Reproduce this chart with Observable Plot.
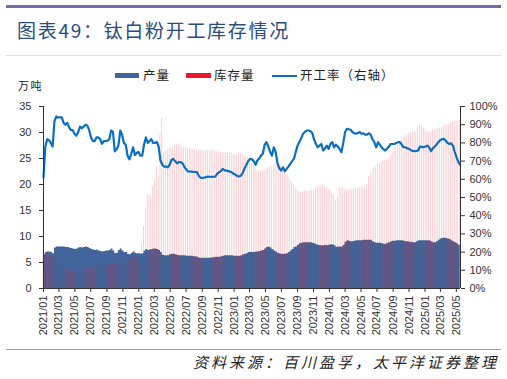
<!DOCTYPE html>
<html><head><meta charset="utf-8">
<script src="https://cdn.jsdelivr.net/npm/d3@7"></script>
<script src="https://cdn.jsdelivr.net/npm/@observablehq/plot@0.6"></script>
<style>
body{margin:0;background:#fff;}
#wrap{position:relative;width:507px;height:379px;overflow:hidden;font-family:"Noto Sans CJK SC","Noto Sans",sans-serif;color:#222;}
.abs{position:absolute;white-space:nowrap;line-height:1;}
#topbar{left:6px;top:5px;width:495px;height:3px;background:#6b6fa6;}
#title{left:17px;top:20px;font-size:19px;letter-spacing:1.7px;color:#2a4d80;}
#sep{left:6px;top:55px;width:495px;height:1px;background:#dcdcea;}
#botline{left:6px;top:349px;width:495px;height:1px;background:#9a9cc8;}
#source{right:8px;top:354px;font-size:15px;letter-spacing:3px;font-style:italic;color:#222;}
.sw{position:absolute;}
.lt{font-size:12.5px;letter-spacing:1px;color:#222;}
#unit{left:18px;top:80px;font-size:11px;letter-spacing:1.5px;}
#chart{position:absolute;left:0;top:0;}
</style></head>
<body><div id="wrap">
<div id="topbar" class="abs"></div>
<div id="title" class="abs">图表49：钛白粉开工库存情况</div>
<div id="sep" class="abs"></div>
<div id="chart"></div>
<div class="sw" style="left:115px;top:73px;width:24px;height:5px;background:#41659a"></div>
<div class="abs lt" style="left:143px;top:69px">产量</div>
<div class="sw" style="left:186px;top:73px;width:25px;height:5px;background:#e8192c"></div>
<div class="abs lt" style="left:214px;top:69px">库存量</div>
<div class="sw" style="left:272px;top:74.5px;width:25px;height:2px;background:#0a6fc4"></div>
<div class="abs lt" style="left:300px;top:69px">开工率（右轴）</div>
<div id="unit" class="abs">万吨</div>
<div id="botline" class="abs"></div>
<div id="source" class="abs">资料来源：百川盈孚，太平洋证券整理</div>
</div>
<script>
// weekly series starting 2021-01-01
const startDate = "2021-01-01";
const production = [
6.5,6.9,7.0,7.0,6.9,6.7,7.8,8.0,8.0,8.0,
8.0,8.0,7.9,7.9,7.8,7.7,7.6,7.5,7.6,7.8,
7.9,7.8,7.9,8.0,7.9,7.7,7.5,7.4,7.3,7.4,
7.2,7.1,7.0,7.1,7.2,7.2,7.3,7.6,7.2,6.7,
6.8,7.3,7.6,7.2,6.9,6.9,6.6,6.5,6.8,7.0,
6.8,6.7,6.7,6.6,6.7,7.2,7.5,7.3,7.4,7.5,
7.6,7.6,7.5,7.3,6.9,6.4,6.3,6.3,6.3,6.5,
6.6,6.6,6.5,6.4,6.3,6.3,6.3,6.3,6.2,6.2,
6.2,6.2,6.1,6.1,6.0,5.8,5.8,5.8,5.8,5.8,
5.8,5.8,5.9,5.9,6.0,6.0,6.0,6.1,6.2,6.3,
6.3,6.3,6.3,6.3,6.2,6.2,6.2,6.2,6.3,6.5,
6.6,6.7,6.9,6.9,6.9,6.9,7.0,7.0,7.1,7.2,
7.3,7.6,7.9,8.0,7.8,7.5,7.2,7.0,6.8,6.7,
6.6,6.6,6.6,6.7,6.9,7.2,7.5,7.9,8.0,8.3,
8.6,8.7,8.8,8.8,8.8,8.8,8.8,8.7,8.6,8.4,
8.3,8.2,8.2,8.2,8.3,8.2,8.3,8.4,8.4,8.2,
7.9,8.0,8.0,8.0,8.3,8.9,9.2,9.1,9.0,9.0,
9.1,9.2,9.2,9.2,9.2,9.3,9.3,9.3,9.3,9.3,
9.0,8.8,8.7,8.7,8.7,8.6,8.5,8.5,8.7,8.8,
9.0,9.1,9.1,9.2,9.2,9.2,9.2,9.1,9.0,9.0,
8.9,8.9,8.8,8.8,9.0,9.2,9.2,9.2,9.2,9.2,
9.2,9.2,9.0,8.8,8.8,9.0,9.3,9.5,9.6,9.7,
9.6,9.5,9.4,9.2,9.0,8.8,8.6,8.3,8.0];
const inventory = [
6.8,6.7,6.6,6.4,6.3,6.1,6.0,5.5,5.0,4.6,
4.3,4.0,3.8,3.6,3.5,3.4,3.4,3.3,3.3,3.3,
3.4,3.5,3.6,3.7,3.8,3.9,4.0,4.1,4.2,4.3,
4.4,4.4,4.5,4.5,4.5,4.6,4.6,4.7,4.7,4.8,
4.8,4.9,5.0,5.0,5.1,5.2,5.3,5.4,5.6,5.8,
5.9,6.0,5.8,5.6,8.5,12.0,15.5,18.0,17.8,17.8,
19.6,20.7,23.4,21.5,29.8,32.8,26.2,26.4,26.6,27.0,
27.1,27.2,27.4,27.6,27.8,27.4,27.2,27.1,27.1,27.0,
27.0,26.8,26.7,26.6,26.6,26.6,26.5,26.5,26.5,26.5,
26.6,26.5,26.5,26.6,26.5,26.3,26.3,26.2,26.1,26.0,
26.0,26.0,26.0,26.0,25.9,25.8,25.8,25.8,25.9,25.7,
25.7,25.5,25.2,24.5,24.0,23.5,23.0,22.6,22.6,22.6,
22.6,22.6,23.0,23.3,23.3,23.5,23.8,24.2,24.2,24.0,
23.5,23.3,22.5,22.0,21.5,21.0,20.5,20.0,19.2,18.9,
18.5,18.5,18.7,18.7,18.7,18.7,18.8,18.8,19.0,19.3,
19.4,19.6,19.8,20.0,19.5,19.3,19.0,18.8,18.2,17.8,
17.0,17.5,19.3,19.5,19.3,18.9,18.9,18.9,19.0,19.2,
19.3,19.6,19.4,19.4,19.5,19.5,19.6,20.0,21.5,22.2,
22.6,23.0,23.3,24.0,24.1,24.2,24.5,24.6,24.7,24.8,
25.5,26.0,26.5,27.1,27.5,28.0,28.4,29.0,29.3,29.5,
29.7,30.0,30.0,30.1,30.2,31.0,31.3,31.5,30.9,30.5,
30.0,30.0,30.2,30.4,30.6,30.6,30.8,30.9,31.0,31.3,
31.4,31.5,31.6,31.9,32.0,32.2,32.2,32.2,32.3];
const rate = [
61,78,82,81.5,80,78,92,94.5,94,94,
94,91,90,91,88.5,87,87,85,84,86,
89,88,89,90,89.5,87,83,81,81,83,
83,82,79.5,81,81,81.3,82,86.8,86,75.4,
76.5,78.5,86.8,84.5,80,79,73,71,74,77.6,
73.4,74.5,75,73,73,79,83,80,81,82,
80,80,80.5,78,70.3,68,67,67,66.6,68,
70.6,71.2,70,68.8,69.4,69.4,68.8,67,65.5,64.4,
64.3,64.2,64.1,64,63.9,61.8,60.8,60.7,61,61.2,
61.5,61.4,61.3,61.4,61.5,63,63.9,64.5,65.7,65,
64.8,64.5,64.2,63.9,63,62.6,61.8,61.5,62,63.5,
66,68,70,71.2,71,70,68,70.3,71.5,73,
74,79,80.4,78,75,73,77.6,75,69,66,
64.8,66.6,64.4,65.7,67,68.4,70,71.2,75,78.5,
80.5,82.5,85,86,86.8,86.8,86.4,85.5,82,79.5,
77.6,78.5,79.4,75.8,77,78.5,76.7,79.5,80.4,77.6,
79,78,76.7,74.9,80,86,87.7,87.5,87.2,86,
85.3,85,85.5,85.9,85,85.3,84.5,84.5,85.3,84.5,
82,80.4,77.6,80.4,79,77.6,76.5,75.8,77,78,
79.4,79.4,79.4,80,80.4,80.4,79,77.6,77.6,77,
76.7,76,75.6,75.4,75.6,75.8,78,77.8,77.6,78,
78.5,77.6,75.4,77,78,79,80.4,81.5,82,82.2,
81.3,80,79.4,79.8,78.5,75,72,69.4,68];
const tickLabels = ["2021/01","2021/03","2021/05","2021/07","2021/09","2021/11",
"2022/01","2022/03","2022/05","2022/07","2022/09","2022/11",
"2023/01","2023/03","2023/05","2023/07","2023/09","2023/11",
"2024/01","2024/03","2024/05","2024/07","2024/09","2024/11",
"2025/01","2025/03","2025/05"];
const leftTicks = [0,5,10,15,20,25,30,35];
const rightTicks = [0,10,20,30,40,50,60,70,80,90,100];

const t0 = d3.utcParse("%Y-%m-%d")(startDate);
const data = production.map((p, i) => ({date: d3.utcDay.offset(t0, 7 * i), prod: p, inv: inventory[i], rate: rate[i]}));
const tEnd = d3.utcDay.offset(data[data.length - 1].date, 1);
const k = 35 / 100;
const tickDates = tickLabels.map(d3.utcParse("%Y/%m"));

const chart = Plot.plot({
  width: 507, height: 345,
  marginLeft: 43, marginRight: 47, marginTop: 106, marginBottom: 57,
  x: {type: "utc", domain: [t0, tEnd], label: null},
  y: {domain: [0, 35], label: null},
  style: {fontFamily: "'Liberation Sans', Arial, sans-serif", fontSize: "11px", color: "#333", background: "transparent"},
  marks: [
    Plot.areaY(data, {x: "date", y: "prod", fill: "#41659a", curve: "step-after"}),
    Plot.rectY(data, {x1: d => d3.utcHour.offset(d.date, -28), x2: d => d3.utcHour.offset(d.date, 28), y: "inv", fill: "#e8192c", fillOpacity: 0.32}),
    Plot.lineY(data, {x: "date", y: d => d.rate * k, stroke: "#0a6fc4", strokeWidth: 2.2}),
    Plot.ruleY([0], {stroke: "#333"}),
    Plot.ruleX([t0], {stroke: "#333"}),
    Plot.ruleX([tEnd], {stroke: "#333"}),
    Plot.axisX(tickDates, {tickFormat: d3.utcFormat("%Y/%m"), tickRotate: -90, tickSize: 4, tickPadding: 3, label: null, stroke: "#333"}),
    Plot.axisY(leftTicks, {anchor: "left", tickSize: 4, tickPadding: 8, label: null}),
    Plot.axisY(rightTicks.map(p => p * k), {anchor: "right", tickSize: 4, tickPadding: 5, tickFormat: v => Math.round(v / k) + "%", label: null})
  ]
});
document.getElementById("chart").appendChild(chart);
</script>
</body></html>
